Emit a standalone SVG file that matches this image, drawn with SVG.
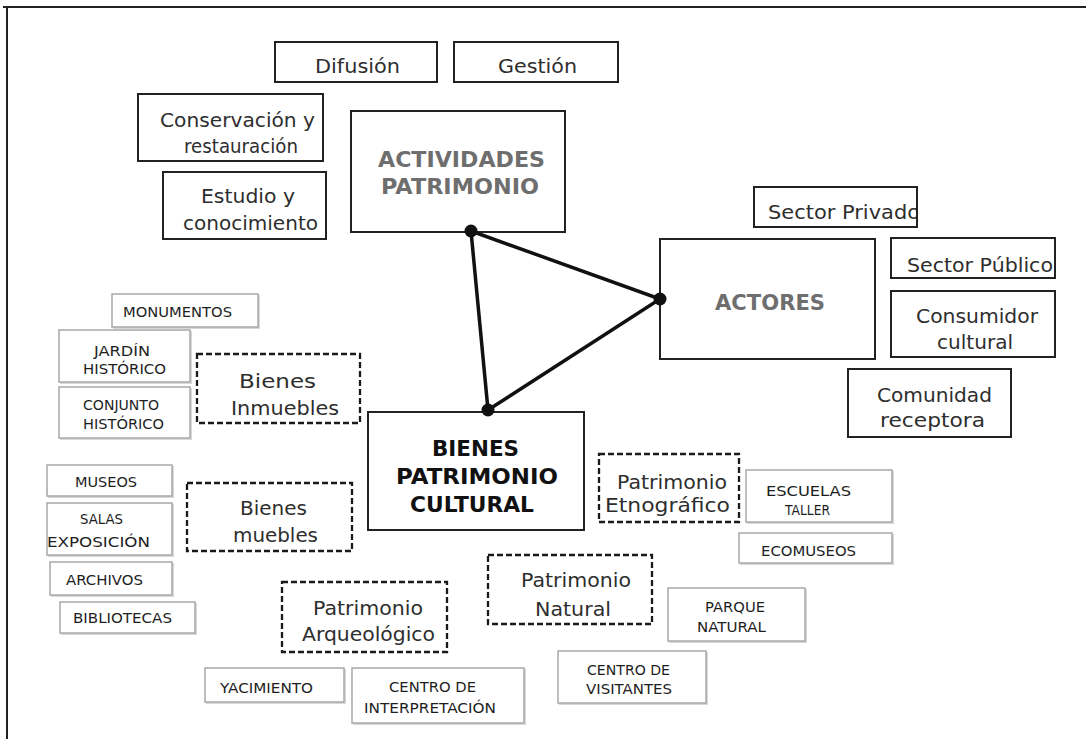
<svg xmlns="http://www.w3.org/2000/svg" width="1086" height="739" viewBox="0 0 1086 739">
<style>
text{font-family:"DejaVu Sans","Liberation Sans",sans-serif;}
.b{fill:#fff;stroke:#222;stroke-width:2;}
.d{fill:#fff;stroke:#1a1a1a;stroke-width:2.3;stroke-dasharray:6 3;}
.g{fill:#fff;stroke:#a8a8a8;stroke-width:1.5;}
.sh{fill:none;stroke:#d8d8d8;stroke-width:2;}
.t{font-size:20px;fill:#2e2e2e;}
.s{font-size:14px;fill:#1e1e1e;}
.h{font-size:21px;font-weight:bold;fill:#6e6e6e;}
.k{font-size:21px;font-weight:bold;fill:#111;}
.e{stroke:#111;stroke-width:3.5;fill:none;}
</style>
<defs>
<clipPath id="cpPriv"><rect x="754" y="187" width="163" height="40"/></clipPath>
</defs>
<rect x="0" y="0" width="1086" height="739" fill="#fff"/>
<g id="frame"><path d="M3 7H1086M7 7V739" stroke="#222" stroke-width="2" fill="none"/></g>

<g id="difusion"><rect class="b" x="275" y="42" width="162" height="40"/><text class="t" x="315" y="73" textLength="85" lengthAdjust="spacingAndGlyphs">Difusión</text></g>
<g id="gestion"><rect class="b" x="454" y="42" width="164" height="40"/><text class="t" x="498" y="73" textLength="79" lengthAdjust="spacingAndGlyphs">Gestión</text></g>
<g id="conservacion"><rect class="b" x="138" y="94" width="185" height="67"/><text class="t" x="160" y="127" textLength="155" lengthAdjust="spacingAndGlyphs">Conservación y</text><text class="t" x="184" y="153" textLength="114" lengthAdjust="spacingAndGlyphs">restauración</text></g>
<g id="estudio"><rect class="b" x="163" y="172" width="163" height="67"/><text class="t" x="201" y="203" textLength="94" lengthAdjust="spacingAndGlyphs">Estudio y</text><text class="t" x="183" y="230" textLength="135" lengthAdjust="spacingAndGlyphs">conocimiento</text></g>
<g id="actividades"><rect class="b" x="351" y="111" width="214" height="121"/><text class="h" x="378" y="167" textLength="167" lengthAdjust="spacingAndGlyphs">ACTIVIDADES</text><text class="h" x="381" y="194" textLength="158" lengthAdjust="spacingAndGlyphs">PATRIMONIO</text></g>

<g id="privado"><rect class="b" x="754" y="187" width="163" height="40"/><text class="t" x="768" y="219" textLength="152" lengthAdjust="spacingAndGlyphs" clip-path="url(#cpPriv)">Sector Privado</text><rect x="754" y="187" width="163" height="40" fill="none" stroke="#222" stroke-width="2"/></g>
<g id="actores"><rect class="b" x="660" y="239" width="215" height="120"/><text class="h" x="715" y="310" textLength="110" lengthAdjust="spacingAndGlyphs">ACTORES</text></g>
<g id="publico"><rect class="b" x="891" y="238" width="164" height="40"/><text class="t" x="907" y="272" textLength="146" lengthAdjust="spacingAndGlyphs">Sector Público</text></g>
<g id="consumidor"><rect class="b" x="891" y="291" width="164" height="66"/><text class="t" x="916" y="323" textLength="122" lengthAdjust="spacingAndGlyphs">Consumidor</text><text class="t" x="937" y="349" textLength="76" lengthAdjust="spacingAndGlyphs">cultural</text></g>
<g id="comunidad"><rect class="b" x="848" y="369" width="163" height="68"/><text class="t" x="877" y="402" textLength="115" lengthAdjust="spacingAndGlyphs">Comunidad</text><text class="t" x="880" y="427" textLength="105" lengthAdjust="spacingAndGlyphs">receptora</text></g>

<g id="monumentos"><path class="sh" d="M113 328H259V295"/><rect class="g" x="112" y="294" width="146" height="33"/><text class="s" x="123" y="317" textLength="109" lengthAdjust="spacingAndGlyphs">MONUMENTOS</text></g>
<g id="jardin"><path class="sh" d="M60 383H191V331"/><rect class="g" x="59" y="330" width="131" height="52"/><text class="s" x="94" y="356" textLength="56" lengthAdjust="spacingAndGlyphs">JARDÍN</text><text class="s" x="83" y="374" textLength="83" lengthAdjust="spacingAndGlyphs">HISTÓRICO</text></g>
<g id="conjunto"><path class="sh" d="M60 439H191V388"/><rect class="g" x="59" y="387" width="131" height="51"/><text class="s" x="83" y="410" textLength="76" lengthAdjust="spacingAndGlyphs">CONJUNTO</text><text class="s" x="83" y="429" textLength="81" lengthAdjust="spacingAndGlyphs">HISTÓRICO</text></g>
<g id="inmuebles"><rect class="d" x="197" y="354" width="163" height="69"/><text class="t" x="239" y="388" textLength="77" lengthAdjust="spacingAndGlyphs">Bienes</text><text class="t" x="231" y="415" textLength="108" lengthAdjust="spacingAndGlyphs">Inmuebles</text></g>

<g id="museos"><path class="sh" d="M48 497H173V466"/><rect class="g" x="47" y="465" width="125" height="31"/><text class="s" x="75" y="487" textLength="62" lengthAdjust="spacingAndGlyphs">MUSEOS</text></g>
<g id="salas"><path class="sh" d="M48 556H173V504"/><rect class="g" x="47" y="503" width="125" height="52"/><text class="s" x="80" y="524" textLength="43" lengthAdjust="spacingAndGlyphs">SALAS</text><text class="s" x="47" y="547" textLength="103" lengthAdjust="spacingAndGlyphs">EXPOSICIÓN</text></g>
<g id="archivos"><path class="sh" d="M51 596H173V563"/><rect class="g" x="50" y="562" width="122" height="33"/><text class="s" x="66" y="585" textLength="77" lengthAdjust="spacingAndGlyphs">ARCHIVOS</text></g>
<g id="bibliotecas"><path class="sh" d="M61 634H196V603"/><rect class="g" x="60" y="602" width="135" height="31"/><text class="s" x="73" y="623" textLength="99" lengthAdjust="spacingAndGlyphs">BIBLIOTECAS</text></g>
<g id="muebles"><rect class="d" x="187" y="483" width="165" height="68"/><text class="t" x="240" y="515" textLength="67" lengthAdjust="spacingAndGlyphs">Bienes</text><text class="t" x="233" y="542" textLength="85" lengthAdjust="spacingAndGlyphs">muebles</text></g>

<g id="bienes"><rect class="b" x="368" y="412" width="216" height="118"/><text class="k" x="432" y="456" textLength="87" lengthAdjust="spacingAndGlyphs">BIENES</text><text class="k" x="396" y="484" textLength="162" lengthAdjust="spacingAndGlyphs">PATRIMONIO</text><text class="k" x="410" y="512" textLength="124" lengthAdjust="spacingAndGlyphs">CULTURAL</text></g>

<g id="etnografico"><rect class="d" x="599" y="454" width="140" height="68"/><text class="t" x="617" y="489" textLength="110" lengthAdjust="spacingAndGlyphs">Patrimonio</text><text class="t" x="605" y="512" textLength="125" lengthAdjust="spacingAndGlyphs">Etnográfico</text></g>
<g id="escuelas"><path class="sh" d="M747 523H893V471"/><rect class="g" x="746" y="470" width="146" height="52"/><text class="s" x="766" y="496" textLength="85" lengthAdjust="spacingAndGlyphs">ESCUELAS</text><text class="s" x="785" y="515" textLength="45" lengthAdjust="spacingAndGlyphs">TALLER</text></g>
<g id="ecomuseos"><path class="sh" d="M740 564H893V534"/><rect class="g" x="739" y="533" width="153" height="30"/><text class="s" x="761" y="556" textLength="95" lengthAdjust="spacingAndGlyphs">ECOMUSEOS</text></g>

<g id="natural"><rect class="d" x="488" y="555" width="164" height="69"/><text class="t" x="521" y="587" textLength="110" lengthAdjust="spacingAndGlyphs">Patrimonio</text><text class="t" x="535" y="616" textLength="76" lengthAdjust="spacingAndGlyphs">Natural</text></g>
<g id="arqueologico"><rect class="d" x="282" y="582" width="165" height="70"/><text class="t" x="313" y="615" textLength="110" lengthAdjust="spacingAndGlyphs">Patrimonio</text><text class="t" x="302" y="641" textLength="133" lengthAdjust="spacingAndGlyphs">Arqueológico</text></g>
<g id="parque"><path class="sh" d="M669 642H806V589"/><rect class="g" x="668" y="588" width="137" height="53"/><text class="s" x="705" y="612" textLength="60" lengthAdjust="spacingAndGlyphs">PARQUE</text><text class="s" x="697" y="632" textLength="69" lengthAdjust="spacingAndGlyphs">NATURAL</text></g>
<g id="visitantes"><path class="sh" d="M559 704H707V652"/><rect class="g" x="558" y="651" width="148" height="52"/><text class="s" x="587" y="675" textLength="83" lengthAdjust="spacingAndGlyphs">CENTRO DE</text><text class="s" x="586" y="694" textLength="86" lengthAdjust="spacingAndGlyphs">VISITANTES</text></g>
<g id="yacimiento"><path class="sh" d="M206 703H345V669"/><rect class="g" x="205" y="668" width="139" height="34"/><text class="s" x="220" y="693" textLength="93" lengthAdjust="spacingAndGlyphs">YACIMIENTO</text></g>
<g id="interpretacion"><path class="sh" d="M353 724H525V669"/><rect class="g" x="352" y="668" width="172" height="55"/><text class="s" x="389" y="692" textLength="87" lengthAdjust="spacingAndGlyphs">CENTRO DE</text><text class="s" x="364" y="713" textLength="132" lengthAdjust="spacingAndGlyphs">INTERPRETACIÓN</text></g>

<g id="connectors">
<path class="e" d="M471 231L660 299L488 410Z"/>
<circle cx="471" cy="231" r="6.5" fill="#111"/>
<circle cx="660" cy="299" r="6.5" fill="#111"/>
<circle cx="488" cy="410" r="6.5" fill="#111"/>
</g>
</svg>
